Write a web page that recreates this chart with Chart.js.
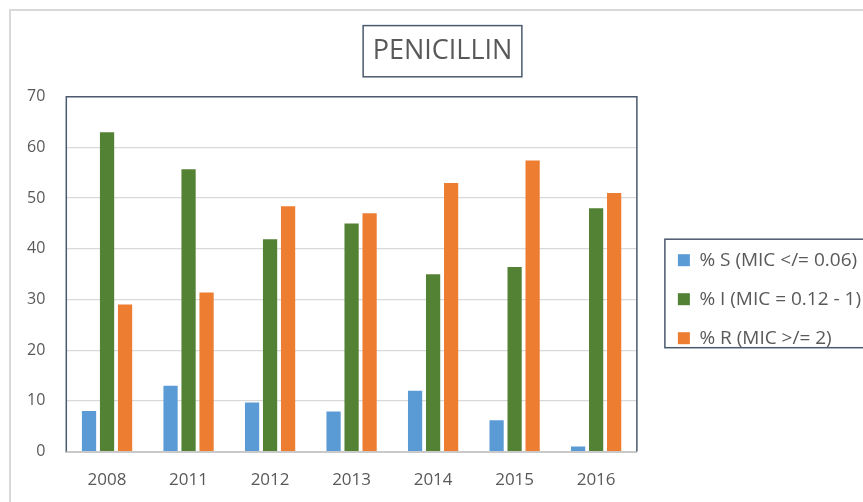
<!DOCTYPE html>
<html>
<head>
<meta charset="utf-8">
<title>Penicillin</title>
<script src="https://cdn.jsdelivr.net/npm/chart.js@4.4.1/dist/chart.umd.min.js"></script>
<style>
    html, body { margin: 0; padding: 0; background: #fff; overflow: hidden; }
    /* grey frame of the chart object, it runs past the right and bottom edge */
    #frame { position: absolute; left: 9px; top: 9px; width: 900px; height: 520px; border: 2px solid #d9d9d9; }
    #penicillinChart { position: absolute; left: -11px; top: 0; }
</style>
</head>
<body>
<div id="frame"><canvas id="penicillinChart" width="900" height="520"></canvas></div>
<script>
// Data
const years = ['2008', '2011', '2012', '2013', '2014', '2015', '2016'];
const seriesNames = ['% S (MIC </= 0.06)', '% I (MIC = 0.12 - 1)', '% R (MIC >/= 2)'];
const susceptible = [8, 13, 9.7, 7.9, 12, 6.2, 1];
const intermediate = [63, 55.7, 41.9, 45, 35, 36.4, 48];
const resistant = [29, 31.4, 48.4, 47, 53, 57.4, 51];
const yTicks = [0, 10, 20, 30, 40, 50, 60, 70];

const seriesColors = ['#5b9bd5', '#548235', '#ed7d31'];
const textColor = '#595959';
const frameColor = '#4b5a6e';
const fontFamily = "'Open Sans', 'Noto Sans', sans-serif";

// Draws the dark boxes: plot area, title and legend
const framesPlugin = {
    id: 'frames',
    afterDraw(chart) {
        const ctx = chart.ctx;
        const area = chart.chartArea;
        ctx.save();
        ctx.strokeStyle = frameColor;
        ctx.lineWidth = 1.5;

        // plot border (bottom side is the grey x axis line)
        ctx.beginPath();
        ctx.moveTo(area.left, area.bottom);
        ctx.lineTo(area.left, area.top);
        ctx.lineTo(area.right, area.top);
        ctx.lineTo(area.right, area.bottom);
        ctx.stroke();

        // box round the title
        const title = chart.titleBlock;
        const tOpts = chart.options.plugins.title;
        ctx.font = `${tOpts.font.size}px ${fontFamily}`;
        const tw = ctx.measureText(tOpts.text).width;
        const cx = (title.left + title.right) / 2;
        const cy = title.top + tOpts.padding.top + tOpts.font.size * 0.6;
        ctx.strokeRect(cx - tw / 2 - 9.5, cy - 25.6, tw + 19, 51.2);

        // box round the legend, right side runs off the picture
        const legend = chart.legend;
        const hb = legend.legendHitBoxes;
        const last = hb[hb.length - 1];
        const top = hb[0].top - 11.5;
        ctx.strokeRect(legend.left + 7, top, 260, last.top + last.height - top);
        ctx.restore();
    }
};

// invisible axis used only as a fixed-width spacer in the layout
const spacerAxis = (width, weight) => ({
    position: 'right',
    weight: weight,
    grid: { display: false, drawTicks: false },
    border: { display: false },
    ticks: { display: false },
    afterFit: (scale) => { scale.width = width; }
});

const ctx = document.getElementById('penicillinChart').getContext('2d');

new Chart(ctx, {
    type: 'bar',
    data: {
        labels: years,
        datasets: [
            { label: seriesNames[0], data: susceptible, backgroundColor: seriesColors[0] },
            { label: seriesNames[1], data: intermediate, backgroundColor: seriesColors[1] },
            { label: seriesNames[2], data: resistant, backgroundColor: seriesColors[2] }
        ]
    },
    options: {
        responsive: false,
        animation: false,
        categoryPercentage: 0.663,
        barPercentage: 0.79,
        layout: { padding: { left: 6, right: 21, top: 0, bottom: 23 } },
        scales: {
            x: {
                grid: { display: false, drawTicks: false },
                border: { display: true, color: '#c9c9c9', width: 2 },
                ticks: { color: textColor, padding: 18, font: { family: fontFamily, size: 17 } }
            },
            y: {
                min: yTicks[0],
                max: yTicks[yTicks.length - 1],
                grid: { color: '#d9d9d9', lineWidth: 1.3, drawTicks: false },
                border: { display: false },
                ticks: { stepSize: yTicks[1] - yTicks[0], color: textColor, padding: 21, font: { family: fontFamily, size: 16 } }
            },
            gap: spacerAxis(21, 0),      // between plot and legend
            edge: spacerAxis(8, 2000)    // right of the legend, centres the title
        },
        plugins: {
            title: {
                display: true,
                text: 'PENICILLIN',
                color: textColor,
                font: { family: fontFamily, size: 27, weight: 'normal' },
                padding: { top: 24, bottom: 29.3 }
            },
            legend: {
                position: 'right',
                maxWidth: 214,
                // empty title pushes the items down to where they sit in the original
                title: { display: true, text: '', padding: { top: 65, bottom: 0 } },
                labels: {
                    boxWidth: 12,
                    boxHeight: 12,
                    padding: 20,
                    color: textColor,
                    font: { family: fontFamily, size: 19 }
                }
            },
            tooltip: { enabled: false }
        }
    },
    plugins: [framesPlugin]
});
</script>
</body>
</html>
